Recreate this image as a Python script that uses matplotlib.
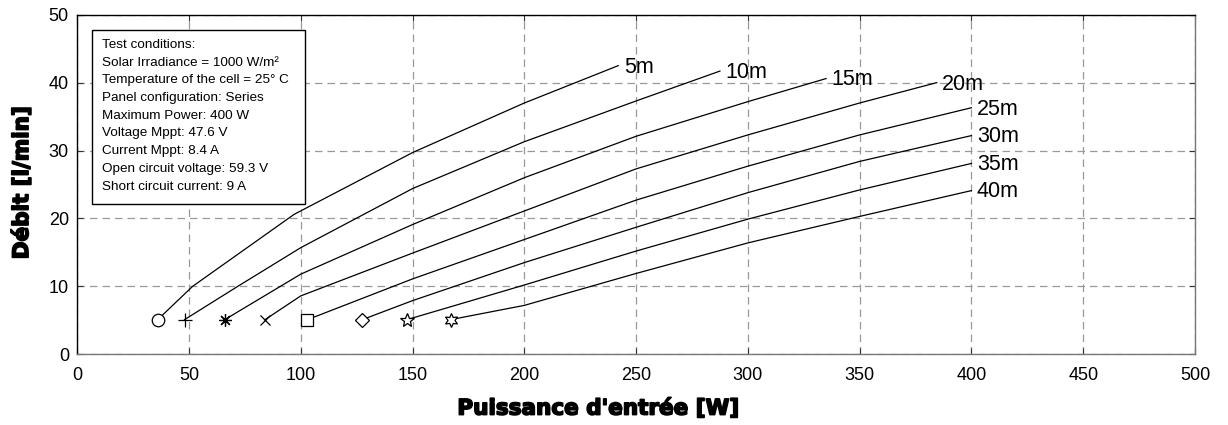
import matplotlib
matplotlib.use("Agg")
import matplotlib.pyplot as plt
from matplotlib.patches import Rectangle
import matplotlib.patheffects as pe

# ---- data ----
heads = ["5m", "10m", "15m", "20m", "25m", "30m", "35m", "40m"]
x_5m = [36, 51.6, 97, 150, 200, 242]
y_5m = [5.1, 10.0, 20.6, 29.7, 37.0, 42.5]
x_10m = [48, 71.8, 100, 150, 200, 250, 287.5]
y_10m = [5.1, 10.0, 15.7, 24.4, 31.3, 37.3, 41.7]
x_15m = [66, 100, 150, 200, 250, 300, 335]
y_15m = [5.1, 11.8, 19.1, 26.0, 32.1, 37.2, 40.6]
x_20m = [84, 100, 150, 200, 250, 300, 350, 384.5]
y_20m = [5.1, 8.6, 14.9, 21.1, 27.3, 32.3, 37.0, 40.0]
x_25m = [103, 150, 200, 250, 300, 350, 400]
y_25m = [5.1, 11.1, 16.9, 22.7, 27.7, 32.3, 36.3]
x_30m = [127.5, 150, 200, 250, 300, 350, 400]
y_30m = [5.1, 7.9, 13.5, 18.7, 23.8, 28.4, 32.2]
x_35m = [147.5, 200, 250, 300, 350, 400]
y_35m = [5.1, 10.2, 15.2, 19.9, 24.2, 28.1]
x_40m = [167, 200, 250, 300, 350, 400]
y_40m = [5.1, 7.2, 11.9, 16.4, 20.3, 24.1]

xs = [x_5m, x_10m, x_15m, x_20m, x_25m, x_30m, x_35m, x_40m]
ys = [y_5m, y_10m, y_15m, y_20m, y_25m, y_30m, y_35m, y_40m]

markers = ["o", "+", (8, 2, 0), "x", "s", "D", "*", (6, 1, 0)]
msizes = [9, 10, 9, 7, 8, 7, 10, 10]

x_ticks = [0, 50, 100, 150, 200, 250, 300, 350, 400, 450, 500]
y_ticks = [0, 10, 20, 30, 40, 50]

info_lines = [
    "Test conditions:",
    "Solar Irradiance = 1000 W/m\u00b2",
    "Temperature of the cell = 25\u00b0 C",
    "Panel configuration: Series",
    "Maximum Power: 400 W",
    "Voltage Mppt: 47.6 V",
    "Current Mppt: 8.4 A",
    "Open circuit voltage: 59.3 V",
    "Short circuit current: 9 A",
]

xlabel = "Puissance d'entrée [W]"
ylabel = "Débit [l/min]"

# ---- figure ----
plt.rcParams["font.family"] = ["Liberation Sans", "DejaVu Sans"]
fig = plt.figure(figsize=(12.28, 4.25), dpi=100)
ax = fig.add_axes([0.0629, 0.1664, 0.9102, 0.7990])

for x, y, lab, m, ms in zip(xs, ys, heads, markers, msizes):
    ax.plot(x, y, color="black", lw=0.9, zorder=3)
    ax.plot(x[0], y[0], linestyle="none", marker=m, ms=ms, mfc="white",
            mec="black", mew=0.9, zorder=4)
    ax.annotate(lab, xy=(x[-1], y[-1]), xytext=(4, -1), textcoords="offset points",
                fontsize=15.5, va="center", ha="left", zorder=5)

ax.set_xlim(0, 500)
ax.set_ylim(0, 50)
ax.set_xticks(x_ticks)
ax.set_yticks(y_ticks)
ax.tick_params(direction="in", length=4, width=0.8, top=True, right=True,
               labelsize=13, colors="#333333", labelcolor="black")
ax.tick_params(axis="x", pad=9)
ax.tick_params(axis="y", pad=6)
ax.grid(True, color="#999999", linestyle=(0, (6, 4)), linewidth=0.9)
ax.set_axisbelow(True)
for s in ["left", "top"]:
    ax.spines[s].set_color("black")
for s in ["bottom", "right"]:
    ax.spines[s].set_color("#777777")
for s in ax.spines.values():
    s.set_linewidth(1.0)

# info box
box = Rectangle((0.0129, 0.4411), 0.2037 - 0.0129, 0.955 - 0.4411,
                transform=ax.transAxes, facecolor="white", edgecolor="black",
                lw=1.0, zorder=6)
ax.add_patch(box)
for i, line in enumerate(info_lines):
    py = 45 + 17.7 * i
    ax.text(0.0218, (354.3 - py) / 339.6, line, transform=ax.transAxes,
            fontsize=9.7, va="center", ha="left", zorder=7)

heavy = [pe.withStroke(linewidth=1.2, foreground="black")]
fig.text(598 / 1228, 1 - 408 / 425, xlabel, fontsize=15.5, fontweight="bold",
         family=["DejaVu Sans"], ha="center", va="center", path_effects=heavy)
fig.text(21.5 / 1228, 1 - 183 / 425, ylabel, fontsize=15.5, fontweight="bold",
         family=["DejaVu Sans"], ha="center", va="center", rotation=90,
         path_effects=heavy)

fig.savefig("out.png", dpi=100)
